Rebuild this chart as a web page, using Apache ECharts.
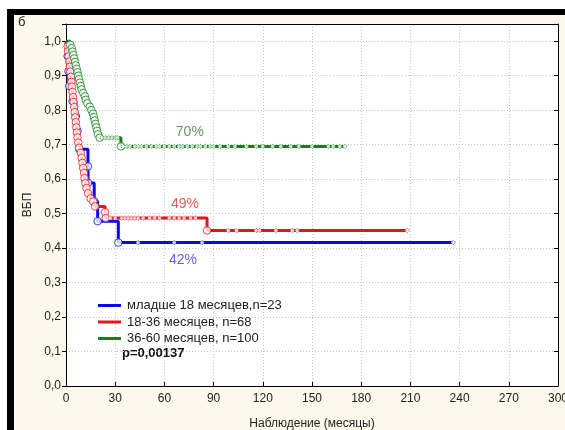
<!DOCTYPE html>
<html>
<head>
<meta charset="utf-8">
<script src="https://cdn.jsdelivr.net/npm/echarts@6/dist/echarts.min.js"></script>
<style>
  html, body { margin: 0; padding: 0; background: #ffffff; }
  #chart { width: 565px; height: 430px; }
</style>
</head>
<body>
<div id="chart"></div>
<script>
// Kaplan–Meier curves: progression-free survival by age group
const groupNames = ['младше 18 месяцев,n=23', '18-36 месяцев, n=68', '36-60 месяцев, n=100'];
const groupColors = ['#0b0be0', '#e3141b', '#13821a'];
const labelColors = ['#3a3ad2', '#e0302f', '#3f7c3f'];

// younger than 18 months: step times (months) and survival after each step
const youngTimes = [0, 1, 1.5, 2, 4, 6, 7, 8, 13.4, 13.5, 17.2, 19.3, 31.9];
const youngSurv  = [1.0, 0.957, 0.913, 0.870, 0.826, 0.783, 0.739, 0.687, 0.637, 0.589, 0.536, 0.478, 0.416];
const youngCensored = [44, 66, 83, 236];

// 18-36 months
const midTimes = [0, 1, 1.3, 1.6, 2, 2.3, 2.6, 3, 3.3, 3.6, 4, 4.3, 4.6, 5, 5.3, 5.6, 6, 6.3, 6.6, 7, 7.5,
                  8, 9, 9.5, 10, 10.5, 11, 11.3, 11.8, 12.5, 13.5, 15, 16.5, 17.7, 23.8, 24.2, 86];
const midSurv  = [1.0, 0.985, 0.971, 0.956, 0.941, 0.926, 0.912, 0.897, 0.882, 0.868, 0.853, 0.838, 0.824,
                  0.809, 0.794, 0.779, 0.765, 0.750, 0.735, 0.721, 0.706, 0.691, 0.676, 0.662, 0.647, 0.632,
                  0.618, 0.603, 0.588, 0.574, 0.559, 0.544, 0.535, 0.521, 0.504, 0.487, 0.451];
const midCensored = [27, 30, 34, 36, 38, 40, 42, 44, 47, 51, 54, 57, 63, 66, 69, 72, 76, 79,
                     99, 104, 116, 118, 128, 138, 141, 208];

// 36-60 months
const oldTimes = [0, 2.5, 3.5, 4, 4.5, 5, 5.5, 6, 6.5, 7, 7.5, 8, 8.5, 9, 9.5, 10.5, 11.5, 12, 13, 14.5,
                  15.5, 16.5, 17, 17.5, 18, 18.5, 19, 19.5, 20.5, 33.5];
const oldSurv  = [1.0, 0.99, 0.98, 0.97, 0.96, 0.95, 0.94, 0.93, 0.92, 0.91, 0.90, 0.89, 0.88, 0.87, 0.86,
                  0.85, 0.84, 0.83, 0.82, 0.81, 0.80, 0.79, 0.78, 0.77, 0.76, 0.75, 0.74, 0.73, 0.72, 0.695];
const oldCensored = [22, 24, 26, 28, 30, 31.5, 35, 37, 39, 42, 44, 46, 49, 52, 55, 57, 60, 63, 66, 69, 71,
                     74, 77, 80, 82, 85, 88, 90, 94, 99, 103, 110, 116, 120, 126, 131, 137, 142, 150, 160,
                     163, 167, 170];

// month at which each plateau percentage is written (the curve's value there is the one shown)
const plateauLabelMonths = [71.3, 72.5, 75.5];

const xTicks = [0, 30, 60, 90, 120, 150, 180, 210, 240, 270, 300];
const yTicks = [0, 0.1, 0.2, 0.3, 0.4, 0.5, 0.6, 0.7, 0.8, 0.9, 1.0];

const groups = [
  { times: youngTimes, surv: youngSurv, cens: youngCensored },
  { times: midTimes, surv: midSurv, cens: midCensored },
  { times: oldTimes, surv: oldSurv, cens: oldCensored }
];

function survAt(times, surv, t) {
  let s = surv[0];
  for (let i = 0; i < times.length; i++) { if (times[i] <= t) s = surv[i]; }
  return s;
}

const FONT = '"Liberation Sans", Arial, sans-serif';
const series = [];

groups.forEach((g, k) => {
  const last = g.surv[g.surv.length - 1];
  const endT = Math.max(g.times[g.times.length - 1], ...g.cens);
  const lineData = g.times.map((t, i) => [t, g.surv[i]]);
  lineData.push([endT, last]);
  series.push({
    name: groupNames[k], type: 'line', step: 'end', data: lineData,
    showSymbol: false, color: groupColors[k],
    lineStyle: { width: 3, color: groupColors[k] }, z: 2 + k * 3, animation: false
  });
  // complete observations: open circles at each step
  series.push({
    type: 'scatter', data: g.times.slice(1).map((t, i) => [t, g.surv[i + 1]]),
    symbol: 'circle', symbolSize: 7.5,
    itemStyle: { color: '#ffffff', borderColor: groupColors[k], borderWidth: 1 },
    z: 3 + k * 3, animation: false, silent: true
  });
  // censored observations
  series.push({
    type: 'scatter', data: g.cens.map(t => [t, survAt(g.times, g.surv, t)]),
    symbol: 'circle', symbolSize: 4,
    itemStyle: { color: '#ffffff', borderColor: groupColors[k], borderWidth: 1, borderType: [1, 1], opacity: 0.8 },
    z: 4 + k * 3, animation: false, silent: true
  });
});

// plateau percentages, written from the curve's value at the label month
series.push({
  type: 'scatter', symbolSize: 0, z: 20, animation: false, silent: true,
  data: groups.map((g, k) => {
    const v = survAt(g.times, g.surv, plateauLabelMonths[k]);
    return {
      value: [plateauLabelMonths[k], v],
      label: {
        show: true, formatter: Math.round(v * 100) + '%',
        position: k === 0 ? 'bottom' : 'top', distance: k === 0 ? 11 : 7,
        color: labelColors[k], fontSize: 14, fontFamily: FONT
      }
    };
  })
});

const fmtY = v => {
  const r = Math.round(v * 10) / 10;
  return Math.abs(r - v) < 1e-6 && yTicks.some(t => Math.abs(t - v) < 1e-6) ? r.toFixed(1).replace('.', ',') : '';
};

const chart = echarts.init(document.getElementById('chart'), null, { renderer: 'canvas' });
chart.setOption({
  backgroundColor: '#fcf8ec',
  animation: false,
  grid: { left: 66, right: 7, top: 24, bottom: 44, show: true, backgroundColor: '#ffffff', borderWidth: 0,
          outerBoundsMode: 'none', containLabel: false },
  xAxis: [{
    type: 'value', min: xTicks[0], max: xTicks[xTicks.length - 1], interval: 30,
    name: 'Наблюдение (месяцы)', nameLocation: 'middle', nameGap: 32,
    nameTextStyle: { color: '#222', fontSize: 12, fontFamily: FONT },
    axisLine: { show: true, lineStyle: { color: '#000', width: 1 } },
    axisTick: { show: true, inside: true, length: 4, lineStyle: { color: '#000' } },
    axisLabel: { color: '#222', fontSize: 12, fontFamily: FONT, margin: 7, showMaxLabel: true, hideOverlap: false },
    splitLine: { show: true, lineStyle: { color: '#c4c4c4', type: [1, 2], width: 1 } }
  }, {
    type: 'value', position: 'top', min: 0, max: 300,
    axisLine: { show: true, onZero: false, lineStyle: { color: '#000', width: 1 } },
    axisTick: { show: false }, axisLabel: { show: false }, splitLine: { show: false }
  }],
  yAxis: [{
    type: 'value', min: 0, max: 1.05, interval: 0.1,
    name: 'ВБП', nameLocation: 'middle', nameGap: 25, nameRotate: 90,
    nameTextStyle: { color: '#222', fontSize: 12, fontFamily: FONT },
    axisLine: { show: true, lineStyle: { color: '#000', width: 1 } },
    axisTick: { show: true, length: 4, lineStyle: { color: '#000' } },
    axisLabel: { color: '#222', fontSize: 12, fontFamily: FONT, margin: 5, formatter: fmtY },
    splitLine: { show: true, lineStyle: { color: '#c4c4c4', type: [1, 2], width: 1 } }
  }, {
    type: 'value', position: 'right', min: 0, max: 1.05, interval: 0.1,
    axisLine: { show: true, onZero: false, lineStyle: { color: '#000', width: 1 } },
    axisTick: { show: true, inside: true, length: 4, lineStyle: { color: '#000' } },
    axisLabel: { show: false }, splitLine: { show: false }
  }],
  legend: {
    data: groupNames, orient: 'vertical', left: 93, top: 294,
    icon: 'rect', itemWidth: 23, itemHeight: 3, itemGap: 3.5,
    selectedMode: false,
    textStyle: { color: '#222', fontSize: 13, fontFamily: FONT, padding: [0, 0, 0, 1] }
  },
  graphic: [
    { type: 'rect', left: 0, top: 0, shape: { width: 7, height: 430 }, style: { fill: '#ffffff' }, silent: true },
    { type: 'rect', left: 0, top: 0, shape: { width: 565, height: 9 }, style: { fill: '#ffffff' }, silent: true },
    { type: 'rect', left: 7, top: 9, shape: { width: 7, height: 421 }, style: { fill: '#000000' }, silent: true },
    { type: 'rect', left: 7, top: 9, shape: { width: 558, height: 6 }, style: { fill: '#000000' }, silent: true },
    { type: 'text', left: 18, top: 16, style: { text: 'б', fill: '#222', font: '13px ' + FONT }, silent: true },
    { type: 'text', left: 122, top: 347, style: { text: 'p=0,00137', fill: '#111', font: 'bold 13px ' + FONT }, silent: true }
  ],
  series: series
});
</script>
</body>
</html>
